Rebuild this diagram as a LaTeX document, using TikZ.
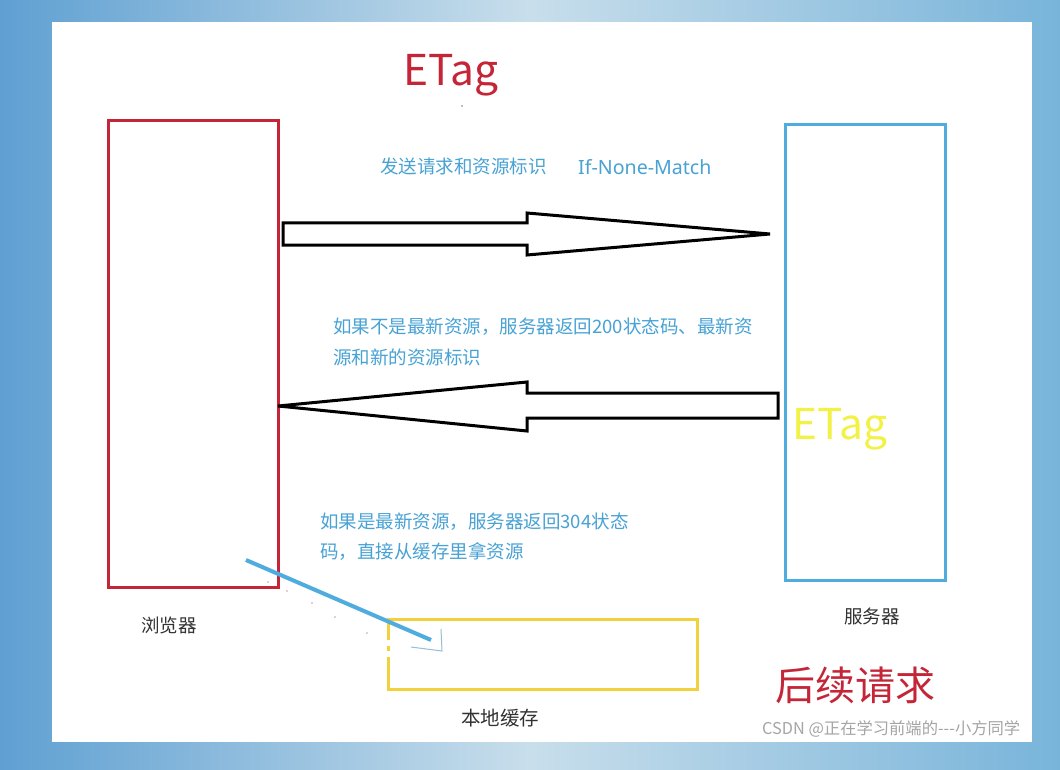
\documentclass[tikz,border=0pt]{standalone}
\usepackage{fontspec}
\newfontfamily\cjk{Noto Sans CJK SC}
\newfontfamily\lat{Noto Sans}
\definecolor{skyL}{RGB}{95,160,210}
\definecolor{skyM}{RGB}{200,222,235}
\definecolor{skyR}{RGB}{120,180,218}
\definecolor{boxred}{RGB}{196,38,56}
\definecolor{boxblue}{RGB}{78,172,222}
\definecolor{boxyellow}{RGB}{242,210,60}
\definecolor{txtblue}{RGB}{72,162,212}
\definecolor{etagyellow}{RGB}{242,242,70}
\definecolor{labelgray}{RGB}{50,50,50}
\definecolor{wmgray}{RGB}{165,165,165}
\definecolor{hookblue}{RGB}{150,190,215}
\definecolor{speck}{RGB}{210,150,170}
\begin{document}
\begin{tikzpicture}[x=1pt,y=-1pt,
  boxframe/.style={draw, line width=3pt, inner sep=0pt},
  blockarrow/.style={draw=black, fill=white, line width=3pt, line join=miter},
  bluetxt/.style={font=\cjk\fontsize{18.5}{31}\selectfont, text=txtblue, inner sep=0pt, anchor=base west, align=left},
  labeltxt/.style={font=\cjk\fontsize{18.5}{22}\selectfont, text=labelgray, inner sep=0pt, anchor=base west},
  bigtxt/.style={font=\cjk\fontsize{42.5}{46}\selectfont, inner sep=0pt, anchor=base west},
]
% background
\shade[left color=skyL, right color=skyR, middle color=skyM] (0,0) rectangle (1060,770);
\fill[white] (52,22) rectangle (1032,742);

% boxes
\node[boxframe, draw=boxred, minimum width=170pt, minimum height=466pt] (browser) at (193,354) {};
\node[boxframe, draw=boxblue, minimum width=160pt, minimum height=455pt] (server) at (865,352.5) {};
\node[inner sep=0pt, minimum width=309pt, minimum height=70pt] (cache) at (542.5,654) {};
\draw[boxyellow, line width=3pt] (388,640) -- (388,619) -- (697,619) -- (697,689) -- (388,689) -- (388,657);
\draw[boxyellow, line width=3pt] (388,646) -- (388,651);

% block arrows
\draw[blockarrow] (283,223) -- (527,223) -- (527,213) -- (770,234) -- (527,255) -- (527,245) -- (283,245) -- cycle;
\draw[blockarrow] (778,393) -- (527,393) -- (527,382) -- (278,406) -- (527,431) -- (527,418) -- (778,418) -- cycle;

% blue stroke towards the cache
\coordinate (strokeS) at (246,560);
\coordinate (strokeE) at (431,640);
\draw[boxblue, line width=4pt] (strokeS) -- (strokeE);
\draw[hookblue, line width=1pt] (441,629) -- (442,651) -- (411,647);

% faint specks
\foreach \p in {(268,582),(287,591),(312,603),(335,617),(367,633)} \fill[speck] \p circle (0.9);
\fill[gray] (462,106) circle (0.8);

% texts
\node[bigtxt, text=boxred] (etag1) at (403,86) {ETag};
\node[bigtxt, text=etagyellow] (etag2) at (792,439) {ETag};
\node[bluetxt] (req) at (380,174) {发送请求和资源标识};
\node[font=\lat\fontsize{19.6}{22}\selectfont, text=txtblue, inner sep=0pt, anchor=base west] (inm) at (578,175) {If-None-Match};
\node[bluetxt] (r200) at (333,364) {如果不是最新资源，服务器返回200状态码、最新资\\源和新的资源标识};
\node[bluetxt, font=\cjk\fontsize{18.5}{30}\selectfont] (r304) at (320,558) {如果是最新资源，服务器返回304状态\\码，直接从缓存里拿资源};
\node[labeltxt] (lb) at (141,632) {浏览器};
\node[labeltxt] (ls) at (844,623) {服务器};
\node[labeltxt, font=\cjk\fontsize{19.5}{22}\selectfont] (lc) at (461,725) {本地缓存};
\node[font=\cjk\fontsize{40}{44}\selectfont, text=boxred, inner sep=0pt, anchor=base west] (later) at (775,700) {后续请求};
\node[font=\cjk\fontsize{16.3}{18}\selectfont, text=wmgray, inner sep=0pt, anchor=base west] (wm) at (762,734) {CSDN @正在学习前端的---小方同学};
\end{tikzpicture}
\end{document}
